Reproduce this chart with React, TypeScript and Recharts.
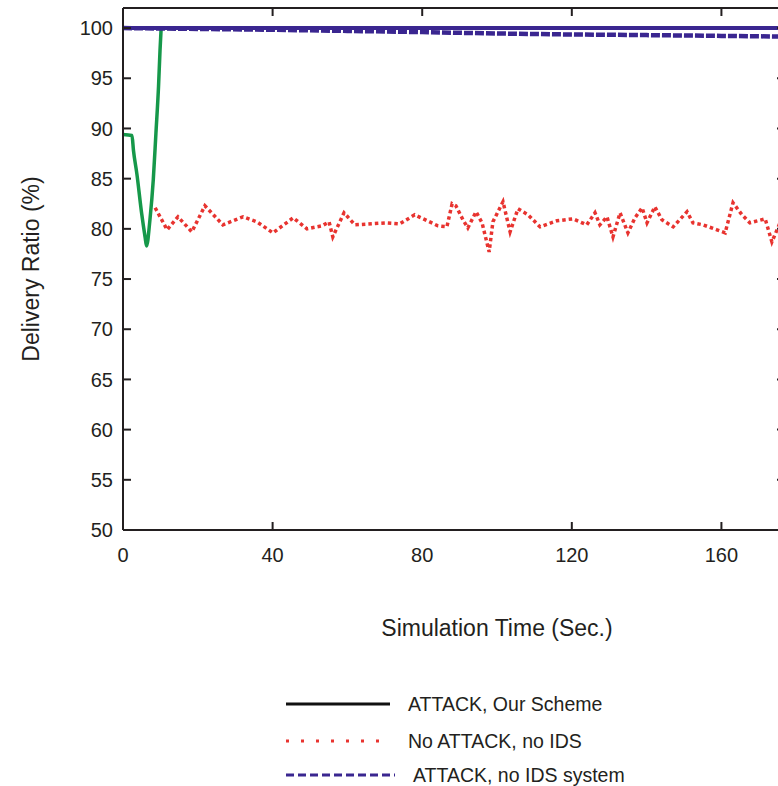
import { LineChart, Line, XAxis, YAxis, Legend } from 'recharts'

// simulation time (sec) and delivery ratio (%)
const xTicks = [0, 40, 80, 120, 160]
const yTicks = [50, 55, 60, 65, 70, 75, 80, 85, 90, 95, 100]

const schemeTime = [0, 2.4, 2.8, 3.7, 5.0, 5.9, 6.3, 7.2, 8.1, 8.8, 9.5, 9.9, 10.2]
const schemeRatio = [89.4, 89.3, 87.8, 85.5, 81.5, 79.2, 78.3, 80.9, 84.9, 89.5, 94.2, 97.8, 100]

const steadyTime = [0, 177]
const steadyRatio = [100, 100]

const noIdsTime = [0, 20, 40, 60, 80, 100, 120, 140, 160, 177]
const noIdsRatio = [100, 99.92, 99.83, 99.72, 99.6, 99.46, 99.36, 99.3, 99.22, 99.15]

const noAttackTime = [
  8.6, 11.8, 14.7, 18.4, 21.9, 26.7, 32.1, 35.8, 40.1, 45.5, 49.2, 53.2, 55.1, 56.1, 59.1, 62,
  70.6, 74, 78, 84.2, 86.6, 88, 89, 90.9, 92.2, 94.4, 96, 97.9, 98.9, 101.6, 103.5, 105.6, 108.3,
  111.5, 116, 120.3, 124, 126.2, 127.5, 129.4, 131, 132.9, 135, 136.9, 138.8, 140.1, 142.2, 144.1,
  147.1, 150.8, 152.4, 155.1, 158.8, 161, 163.1, 165.5, 167.6, 171.7, 173.5, 176,
]
const noAttackRatio = [
  82.1, 79.9, 81.2, 79.7, 82.3, 80.4, 81.2, 80.7, 79.6, 81.1, 80.0, 80.3, 80.7, 79.2, 81.6, 80.4,
  80.6, 80.5, 81.4, 80.3, 80.2, 82.5, 82.3, 80.9, 80.1, 81.7, 80.6, 77.7, 80.7, 82.7, 79.7, 82.0, 81.4,
  80.2, 80.8, 81.0, 80.4, 81.6, 80.4, 81.2, 79.2, 81.6, 79.6, 81.1, 82.1, 80.6, 82.2, 80.9,
  80.2, 81.7, 80.6, 80.4, 79.9, 79.6, 82.6, 81.4, 80.6, 81.0, 78.7, 80.9,
]

const toPoints = (time: number[], ratio: number[]) => time.map((t, i) => ({ time: t, ratio: ratio[i] }))

const INK = '#231f20'
const FONT = '"Liberation Sans", Arial, sans-serif'
const GREEN = '#16984a'
const PURPLE = '#3a2690'
const RED = '#e8332f'

function LeftTick({ x, y, payload }: any) {
  return (
    <g>
      <line x1={x} x2={x + 8} y1={y} y2={y} stroke={INK} strokeWidth={2} />
      <text x={x - 10} y={y} dy="0.36em" textAnchor="end" fontSize={20} fontFamily={FONT} fill={INK}>
        {payload.value}
      </text>
    </g>
  )
}

function RightTick({ x, y }: any) {
  return <line x1={x - 8} x2={x} y1={y} y2={y} stroke={INK} strokeWidth={2} />
}

function BottomTick({ x, y, payload }: any) {
  const mark = payload.value !== 0 && payload.value !== 80
  return (
    <g>
      {mark && <line x1={x} x2={x} y1={y} y2={y - 8} stroke={INK} strokeWidth={2} />}
      <text x={x} y={y + 32} textAnchor="middle" fontSize={20} fontFamily={FONT} fill={INK}>
        {payload.value}
      </text>
    </g>
  )
}

function TopTick({ x, y, payload }: any) {
  if (payload.value === 0) return <g />
  return <line x1={x} x2={x} y1={y} y2={y + 8} stroke={INK} strokeWidth={2} />
}

function LegendBox() {
  const rows = [
    { label: 'ATTACK, Our Scheme', color: '#111111', dash: undefined, end: 390, tx: 408, y: 24 },
    { label: 'No ATTACK, no IDS', color: RED, dash: '3 12', end: 380, tx: 408, y: 61 },
    { label: 'ATTACK, no IDS system', color: PURPLE, dash: '8 4', end: 395, tx: 413, y: 95 },
  ]
  return (
    <svg width={778} height={106}>
      {rows.map((r) => (
        <g key={r.label}>
          <line x1={286} x2={r.end} y1={r.y} y2={r.y} stroke={r.color} strokeWidth={3} strokeDasharray={r.dash} />
          <text x={r.tx} y={r.y} dy="0.36em" fontSize={19.5} fontFamily={FONT} fill={INK}>
            {r.label}
          </text>
        </g>
      ))}
    </svg>
  )
}

export default function App() {
  return (
    <div style={{ position: 'absolute', left: 0, top: 0, width: 778, height: 786, overflow: 'hidden', background: '#fff' }}>
      <LineChart width={800} height={786} margin={{ top: 0, right: 0, left: 0, bottom: 216 }}>
        <XAxis
          dataKey="time"
          type="number"
          domain={[0, 177]}
          ticks={xTicks}
          interval={0}
          allowDataOverflow
          height={40}
          tickSize={0}
          tickMargin={0}
          tick={<BottomTick />}
          axisLine={{ stroke: INK, strokeWidth: 2 }}
          label={{ value: 'Simulation Time (Sec.)', position: 'center', dx: 43, dy: 78, fontSize: 23, fontFamily: FONT, fill: INK }}
        />
        <XAxis
          xAxisId="top"
          orientation="top"
          dataKey="time"
          type="number"
          domain={[0, 177]}
          ticks={xTicks}
          interval={0}
          allowDataOverflow
          height={8}
          tickSize={0}
          tickMargin={0}
          tick={<TopTick />}
          axisLine={{ stroke: INK, strokeWidth: 2 }}
        />
        <YAxis
          type="number"
          domain={[50, 102]}
          ticks={yTicks}
          interval={0}
          allowDataOverflow
          width={123}
          tickSize={0}
          tickMargin={0}
          tick={<LeftTick />}
          axisLine={{ stroke: INK, strokeWidth: 2 }}
          label={{ value: 'Delivery Ratio (%)', angle: -90, position: 'center', dx: -31, fontSize: 23, fontFamily: FONT, fill: INK }}
        />
        <YAxis
          yAxisId="right"
          orientation="right"
          type="number"
          domain={[50, 102]}
          ticks={yTicks}
          interval={0}
          allowDataOverflow
          width={15}
          tickSize={0}
          tickMargin={0}
          tick={<RightTick />}
          axisLine={{ stroke: INK, strokeWidth: 2 }}
        />
        <Legend
          verticalAlign="middle"
          align="center"
          content={<LegendBox />}
          wrapperStyle={{ top: 680, left: 0, width: 778 }}
        />
        <Line
          data={toPoints(schemeTime, schemeRatio)}
          dataKey="ratio"
          type="monotone"
          stroke={GREEN}
          strokeWidth={3.5}
          dot={false}
          activeDot={false}
          isAnimationActive={false}
        />
        <Line
          data={toPoints(noAttackTime, noAttackRatio)}
          dataKey="ratio"
          type="linear"
          stroke={RED}
          strokeWidth={3.5}
          strokeDasharray="3.5 3"
          dot={false}
          activeDot={false}
          isAnimationActive={false}
        />
        <Line
          xAxisId="top"
          data={toPoints(steadyTime, steadyRatio)}
          dataKey="ratio"
          type="linear"
          stroke={PURPLE}
          strokeWidth={4}
          dot={false}
          activeDot={false}
          isAnimationActive={false}
        />
        <Line
          yAxisId="right"
          data={toPoints(noIdsTime, noIdsRatio)}
          dataKey="ratio"
          type="linear"
          stroke={PURPLE}
          strokeWidth={4.5}
          strokeDasharray="9 2"
          dot={false}
          activeDot={false}
          isAnimationActive={false}
        />
      </LineChart>
    </div>
  )
}
